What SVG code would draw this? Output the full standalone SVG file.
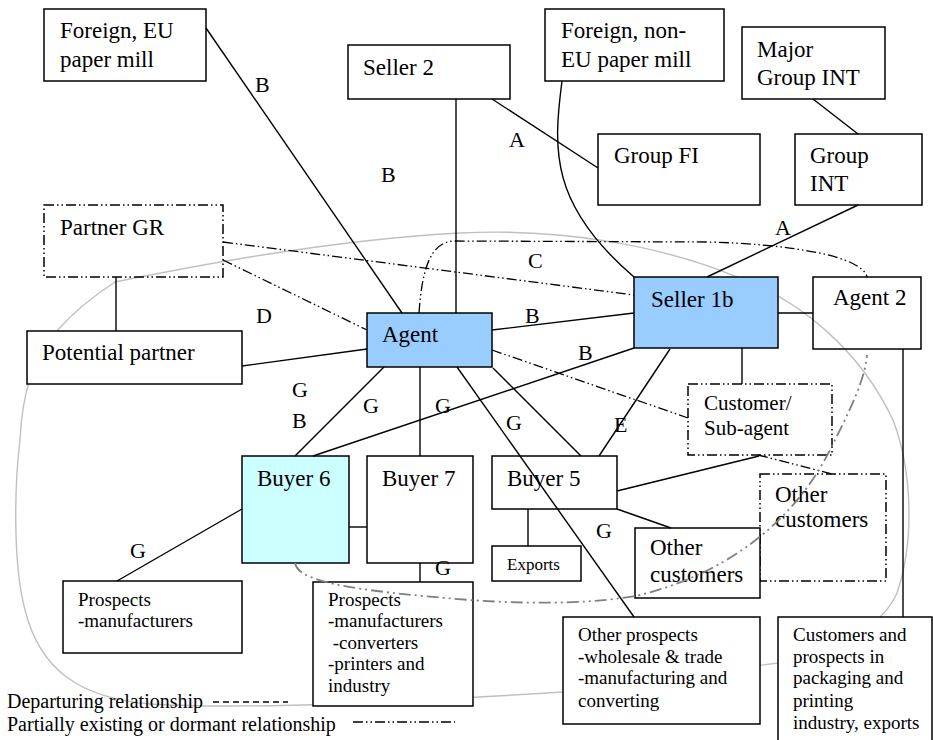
<svg xmlns="http://www.w3.org/2000/svg" width="933" height="740" viewBox="0 0 933 740">
<style>
  text { font-family: "Liberation Serif", "Times New Roman", serif; fill: #000; }
  .t { font-size: 23px; }
  .m { font-size: 21px; }
  .s { font-size: 19px; }
  .xs { font-size: 17px; }
  .lg { font-size: 20px; }
  .lbl { font-size: 22px; }
  .box { fill: #fff; stroke: #000; stroke-width: 1.5; }
  .open { fill: none; stroke: #000; stroke-width: 1.5; }
  .blue { fill: #99CCFF; stroke: #000; stroke-width: 1.5; }
  .cyan { fill: #CCFFFF; stroke: #000; stroke-width: 1.5; }
  .ddbox { fill: #fff; stroke: #000; stroke-width: 1.5; stroke-dasharray: 10 3 1.5 3 1.5 3; }
  .ddopen { fill: none; stroke: #000; stroke-width: 1.5; stroke-dasharray: 10 3 1.5 3 1.5 3; }
  .ln { fill: none; stroke: #000; stroke-width: 1.4; }
  .dd { fill: none; stroke: #000; stroke-width: 1.3; stroke-dasharray: 10 3 1.5 3 1.5 3; }
  .gdd { fill: none; stroke: #808080; stroke-width: 1.8; stroke-dasharray: 12 4 2 4 2 4; }
  .dash { fill: none; stroke: #000; stroke-width: 1.3; stroke-dasharray: 6 4; }
  .region { fill: none; stroke: #c0c0c0; stroke-width: 1.4; }
</style>

<g id="region">
  <path class="region" d="M20,440 C22,400 30,360 57,331 C75,310 95,295 115,282 C200,265 330,240 460,233 C560,228 660,245 737,277 C800,300 860,350 893,420 C912,470 915,540 897,593 C885,620 860,640 778,663 L563,692 C400,702 250,710 150,704 C80,698 40,670 25,610 C12,560 15,480 20,440 Z"/>
</g>

<g id="nodes">
  <g id="foreign-eu"><rect class="box" x="44" y="9" width="162" height="72"/><text class="t" x="60" y="38">Foreign, EU</text><text class="t" x="60" y="67">paper mill</text></g>
  <g id="seller2"><rect class="box" x="348" y="45" width="162" height="54"/><text class="t" x="363" y="75">Seller 2</text></g>
  <g id="foreign-noneu"><rect class="box" x="545" y="9" width="179" height="72"/><text class="t" x="561" y="38">Foreign, non-</text><text class="t" x="561" y="67">EU paper mill</text></g>
  <g id="major-group-int"><rect class="box" x="742" y="27" width="143" height="72"/><text class="t" x="757" y="57">Major</text><text class="t" x="757" y="85">Group INT</text></g>
  <g id="group-fi"><rect class="box" x="598" y="134" width="162" height="71"/><text class="t" x="614" y="163">Group FI</text></g>
  <g id="group-int"><rect class="box" x="795" y="134" width="127" height="71"/><text class="t" x="810" y="163">Group</text><text class="t" x="810" y="191">INT</text></g>
  <g id="partner-gr"><rect class="ddopen" x="44" y="205" width="179" height="72"/><text class="t" x="60" y="235">Partner GR</text></g>
  <g id="potential-partner"><rect class="box" x="27" y="331" width="215" height="53"/><text class="t" x="42" y="360">Potential partner</text></g>
  <g id="agent"><rect class="blue" x="367" y="313" width="125" height="54"/><text class="t" x="382" y="342">Agent</text></g>
  <g id="seller1b"><rect class="blue" x="634" y="277" width="144" height="71"/><text class="t" x="651" y="307">Seller 1b</text></g>
  <g id="agent2"><rect class="open" x="813" y="277" width="108" height="72"/><text class="t" x="833" y="305">Agent 2</text></g>
  <g id="customer-subagent"><rect class="ddbox" x="688" y="384" width="144" height="71"/><text class="m" x="704" y="410">Customer/</text><text class="m" x="704" y="435">Sub-agent</text></g>
  <g id="buyer6"><rect class="cyan" x="242" y="456" width="107" height="107"/><text class="t" x="257" y="486">Buyer 6</text></g>
  <g id="buyer7"><rect class="box" x="367" y="456" width="106" height="107"/><text class="t" x="382" y="486">Buyer 7</text></g>
  <g id="buyer5"><rect class="box" x="492" y="456" width="125" height="53"/><text class="t" x="507" y="486">Buyer 5</text></g>
  <g id="exports"><rect class="box" x="492" y="546" width="89" height="35"/><text class="xs" x="507" y="570">Exports</text></g>
  <g id="other-customers-2"><rect class="ddbox" x="760" y="474" width="126" height="107"/><text class="t" x="775" y="502">Other</text><text class="t" x="775" y="527">customers</text></g>
  <g id="other-customers-1"><rect class="box" x="635" y="528" width="125" height="70"/><text class="t" x="650" y="555">Other</text><text class="t" x="650" y="582">customers</text></g>
  <g id="prospects-manufacturers"><rect class="box" x="63" y="581" width="179" height="72"/><text class="s" x="78" y="606">Prospects</text><text class="s" x="78" y="627">-manufacturers</text></g>
  <g id="prospects-mixed"><rect class="box" x="313" y="582" width="160" height="124"/><text class="s" x="328" y="606">Prospects</text><text class="s" x="328" y="627">-manufacturers</text><text class="s" x="328" y="649" xml:space="preserve"> -converters</text><text class="s" x="328" y="670">-printers and</text><text class="s" x="328" y="692">industry</text></g>
  <g id="other-prospects"><rect class="box" x="563" y="617" width="197" height="107"/><text class="s" x="578" y="641">Other prospects</text><text class="s" x="578" y="663">-wholesale &amp; trade</text><text class="s" x="578" y="684">-manufacturing and</text><text class="s" x="578" y="707">converting</text></g>
  <g id="customers-prospects"><rect class="box" x="778" y="617" width="154" height="130"/><text class="s" x="793" y="641">Customers and</text><text class="s" x="793" y="663">prospects in</text><text class="s" x="793" y="684">packaging and</text><text class="s" x="793" y="707">printing</text><text class="s" x="793" y="729">industry, exports</text></g>
</g>

<g id="connectors">
  <line class="ln" x1="206" y1="28" x2="402" y2="313"/>
  <line class="ln" x1="456" y1="99" x2="456" y2="313"/>
  <line class="ln" x1="492" y1="99" x2="598" y2="168"/>
  <path class="ln" d="M562,81 C553,150 550,205 634,277"/>
  <line class="ln" x1="813" y1="99" x2="858" y2="134"/>
  <line class="ln" x1="858" y1="205" x2="707" y2="277"/>
  <line class="ln" x1="116" y1="277" x2="116" y2="331"/>
  <line class="ln" x1="242" y1="366" x2="367" y2="349"/>
  <line class="ln" x1="492" y1="330" x2="634" y2="313"/>
  <line class="ln" x1="313" y1="456" x2="634" y2="348"/>
  <line class="ln" x1="384" y1="367" x2="295" y2="456"/>
  <line class="ln" x1="420" y1="367" x2="420" y2="456"/>
  <line class="ln" x1="457" y1="367" x2="634" y2="617"/>
  <line class="ln" x1="493" y1="368" x2="581" y2="456"/>
  <line class="ln" x1="670" y1="349" x2="599" y2="456"/>
  <line class="ln" x1="742" y1="348" x2="742" y2="384"/>
  <line class="ln" x1="778" y1="313" x2="813" y2="313"/>
  <line class="ln" x1="903" y1="349" x2="903" y2="617"/>
  <line class="ln" x1="759" y1="456" x2="617" y2="491"/>
  <line class="ln" x1="617" y1="509" x2="671" y2="528"/>
  <line class="ln" x1="528" y1="509" x2="528" y2="546"/>
  <line class="ln" x1="349" y1="527" x2="367" y2="527"/>
  <line class="ln" x1="420" y1="563" x2="420" y2="582"/>
  <line class="ln" x1="242" y1="509" x2="117" y2="581"/>
  <line class="dd" x1="223" y1="242" x2="634" y2="295"/>
  <line class="dd" x1="223" y1="260" x2="367" y2="330"/>
  <line class="dd" x1="492" y1="350" x2="688" y2="418"/>
  <line class="dd" x1="758" y1="455" x2="832" y2="474"/>
  <path class="dd" d="M419,313 C422,270 430,241 455,241 L707,242 C790,244 862,256 867,277"/>
  <path class="gdd" d="M295,563 C298,580 340,590 470,600 C540,605 600,603 640,595 C740,570 800,510 830,450 C850,410 865,380 867,355"/>
</g>

<g id="labels">
  <text class="lbl" x="255" y="92">B</text>
  <text class="lbl" x="381" y="182">B</text>
  <text class="lbl" x="509" y="147">A</text>
  <text class="lbl" x="775" y="235">A</text>
  <text class="lbl" x="528" y="268">C</text>
  <text class="lbl" x="256" y="323">D</text>
  <text class="lbl" x="525" y="323">B</text>
  <text class="lbl" x="578" y="360">B</text>
  <text class="lbl" x="292" y="397">G</text>
  <text class="lbl" x="292" y="428">B</text>
  <text class="lbl" x="363" y="413">G</text>
  <text class="lbl" x="435" y="413">G</text>
  <text class="lbl" x="506" y="430">G</text>
  <text class="lbl" x="614" y="432">E</text>
  <text class="lbl" x="596" y="538">G</text>
  <text class="lbl" x="130" y="558">G</text>
  <text class="lbl" x="435" y="575">G</text>
</g>

<g id="legend">
  <text class="lg" x="7" y="708">Departuring relationship</text>
  <line class="dash" x1="213" y1="702" x2="288" y2="702"/>
  <text class="lg" x="7" y="731">Partially existing or dormant relationship</text>
  <line class="dd" x1="353" y1="722" x2="455" y2="722"/>
</g>
</svg>
